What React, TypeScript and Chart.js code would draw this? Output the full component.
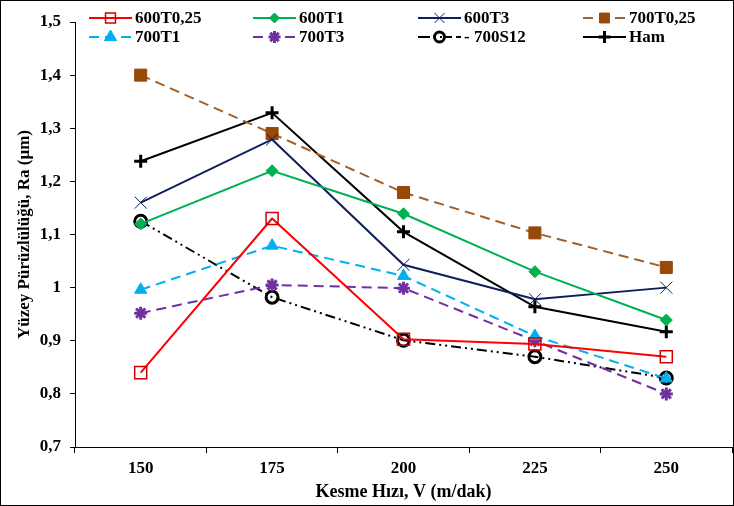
import React, { useEffect, useRef } from "react";
import { Chart, registerables } from "chart.js";
import { drawPoint } from "chart.js/helpers";

Chart.register(...registerables);

const categories = ["150", "175", "200", "225", "250"];
const s600T025 = [0.84, 1.13, 0.903, 0.894, 0.87];
const s600T1 = [1.12, 1.22, 1.139, 1.03, 0.939];
const s600T3 = [1.16, 1.279, 1.043, 0.978, 1.0];
const s700T025 = [1.4, 1.29, 1.179, 1.103, 1.038];
const s700T1 = [0.996, 1.079, 1.022, 0.909, 0.829];
const s700T3 = [0.952, 1.005, 0.999, 0.9, 0.8];
const s700S12 = [1.125, 0.982, 0.901, 0.87, 0.83];
const sHam = [1.238, 1.329, 1.105, 0.964, 0.917];
const seriesNames = ["600T0,25", "600T1", "600T3", "700T0,25", "700T1", "700T3", "- 700S12", "Ham"];

const FONT = "'Liberation Serif', 'Times New Roman', serif";

const legendCols = [89, 253, 418, 583];
const legendRows = [18, 37];

const legendPlugin = {
  id: "customLegend",
  afterDraw(chart: any) {
    const ctx = chart.ctx;
    ctx.save();
    chart.data.datasets.forEach((ds: any, i: number) => {
      const x0 = legendCols[i % 4];
      const y = legendRows[Math.floor(i / 4)];
      ctx.save();
      ctx.strokeStyle = ds.borderColor;
      ctx.lineWidth = ds.borderWidth;
      ctx.setLineDash(ds.legendDash || []);
      ctx.beginPath();
      ctx.moveTo(x0, y);
      ctx.lineTo(x0 + 43, y);
      ctx.stroke();
      ctx.restore();
      ctx.save();
      ctx.setLineDash([]);
      ctx.fillStyle = ds.pointBackgroundColor;
      ctx.strokeStyle = ds.pointBorderColor;
      ctx.lineWidth = ds.pointBorderWidth;
      drawPoint(ctx, { pointStyle: ds.pointStyle, rotation: 0, borderWidth: ds.pointBorderWidth, radius: ds.legendRadius }, x0 + 21.5, y);
      ctx.restore();
      ctx.fillStyle = "#000";
      ctx.font = `bold 17px ${FONT}`;
      ctx.textBaseline = "middle";
      ctx.textAlign = "left";
      ctx.fillText(seriesNames[i], x0 + 46, y + 1);
    });
    ctx.restore();
  },
};

const framePlugin = {
  id: "frame",
  beforeDraw(chart: any) {
    const ctx = chart.ctx;
    ctx.save();
    ctx.fillStyle = "#fff";
    ctx.fillRect(0, 0, chart.width, chart.height);
    ctx.restore();
  },
  afterDraw(chart: any) {
    const ctx = chart.ctx;
    ctx.save();
    ctx.strokeStyle = "#000";
    ctx.lineWidth = 1;
    ctx.strokeRect(0.5, 0.5, chart.width - 1, chart.height - 1);
    ctx.restore();
  },
};

export default function App() {
  const ref = useRef<HTMLCanvasElement>(null);
  useEffect(() => {
    if (!ref.current) return;
    const mk = (
      data: number[],
      color: string,
      pointStyle: string,
      radius: number,
      pbw: number,
      dash: number[],
      bg: string,
      pColor: string,
      legendRadius: number
    ) => ({
      data,
      borderColor: color,
      borderWidth: 2,
      borderDash: dash,
      legendDash: dash,
      pointStyle,
      pointRadius: radius,
      pointHoverRadius: radius,
      pointBorderWidth: pbw,
      pointBackgroundColor: bg,
      pointBorderColor: pColor,
      legendRadius,
      tension: 0,
      fill: false,
      clip: false,
    });
    const datasets: any[] = [
      mk(s600T025, "#FF0000", "rect", 8.5, 1.5, [], "rgba(255,255,255,0)", "#D00000", 7),
      mk(s600T1, "#00B050", "rectRot", 6, 1, [], "#00B050", "#00B050", 5),
      mk(s600T3, "#0E1F5B", "crossRot", 8.5, 1, [], "#0E1F5B", "#0E1F5B", 7),
      mk(s700T025, "#A0602A", "rect", 8.5, 1, [10, 6], "#984807", "#984807", 7),
      mk(s700T1, "#00B0F0", "triangle", 7, 1, [10, 6], "#00B0F0", "#00B0F0", 7),
      mk(s700T3, "#7030A0", "star", 6.5, 3, [10, 6], "#7030A0", "#7030A0", 6),
      mk(s700S12, "#000000", "circle", 6, 3, [10, 4, 2, 4, 2, 4], "rgba(255,255,255,0)", "#000000", 5),
      mk(sHam, "#000000", "cross", 6.5, 3, [], "#000000", "#000000", 6),
    ];
    datasets[6].legendDash = [12, 10, 2, 4, 6, 4];
    const chart = new Chart(ref.current, {
      type: "line",
      data: { labels: categories, datasets },
      plugins: [framePlugin, legendPlugin],
      options: {
        animation: false,
        responsive: false,
        maintainAspectRatio: false,
        layout: { autoPadding: false, padding: { top: 22, right: 2, left: 0, bottom: 0 } },
        plugins: { legend: { display: false }, tooltip: { enabled: false } },
        scales: {
          x: {
            type: "category",
            offset: true,
            grid: { display: true, offset: true, drawOnChartArea: false, drawTicks: true, tickLength: 6, color: "#000" },
            border: { display: true, color: "#000", width: 1 },
            ticks: { color: "#000", font: { family: FONT, size: 17, weight: "bold" }, padding: 5, maxRotation: 0 },
            title: { display: true, text: "Kesme Hızı, V (m/dak)", color: "#000", font: { family: FONT, size: 18, weight: "bold" }, padding: { top: 0, bottom: 3 } },
            afterFit(scale: any) {
              scale.height = 59;
              scale.paddingLeft = 0;
              scale.paddingRight = 0;
            },
          },
          y: {
            min: 0.7,
            max: 1.5,
            grid: { display: true, drawOnChartArea: false, drawTicks: true, tickLength: 5, color: "#000" },
            border: { display: true, color: "#000", width: 1 },
            ticks: {
              stepSize: 0.1,
              color: "#000",
              padding: 9,
              font: { family: FONT, size: 17, weight: "bold" },
              callback: (v: any) => String(Number(Number(v).toFixed(1))).replace(".", ","),
            },
            title: { display: true, text: "Yüzey Pürüzlülüğü, Ra (µm)", color: "#000", font: { family: FONT, size: 17, weight: "bold" }, padding: { top: 14, bottom: 0 } },
            afterFit(scale: any) {
              scale.width = 75;
            },
          },
        },
      },
    });
    return () => chart.destroy();
  }, []);
  return (
    <div style={{ position: "absolute", left: 0, top: 0, width: 734, height: 506 }}>
      <canvas ref={ref} width={734} height={506} />
    </div>
  );
}
